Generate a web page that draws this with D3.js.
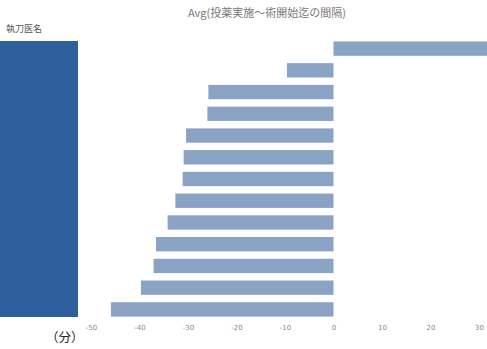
<!DOCTYPE html>
<html>
<head>
<meta charset="utf-8">
<script src="https://cdn.jsdelivr.net/npm/d3@7"></script>
<style>
  html, body { margin: 0; padding: 0; background: #fff; }
  svg { display: block; }
</style>
</head>
<body>
<svg id="chart" width="487" height="349"></svg>
<script>
// Average interval (minutes) from medication to surgery start, per surgeon
const surgeons = ["S01","S02","S03","S04","S05","S06","S07","S08","S09","S10","S11","S12","S13"];
const avgMinutes = [32.5, -9.6, -25.8, -26.0, -30.4, -30.9, -31.1, -32.6, -34.2, -36.6, -37.1, -39.7, -45.9];
const tickValues = [-50, -40, -30, -20, -10, 0, 10, 20, 30];

const titleText = "Avg(投薬実施～術開始迄の間隔)";
const rowHeaderText = "執刀医名";
const unitText = "（分）";

const W = 487, H = 349;
const svg = d3.select("#chart");

const x = d3.scaleLinear().domain([-50, 30]).range([91, 479]);
const y = d3.scaleBand().domain(surgeons).range([41, 317]).paddingInner(0.34).paddingOuter(0.02);

// title
svg.append("text")
  .attr("x", 267).attr("y", 17)
  .attr("text-anchor", "middle")
  .attr("font-family", "'Noto Sans CJK JP', sans-serif")
  .attr("font-size", 11)
  .attr("fill", "#777")
  .text(titleText);

// row header label
svg.append("text")
  .attr("x", 6).attr("y", 32)
  .attr("font-family", "'Noto Sans CJK JP', sans-serif")
  .attr("font-size", 9)
  .attr("fill", "#555")
  .text(rowHeaderText);

// row header block
svg.append("rect")
  .attr("x", 0).attr("y", y.range()[0])
  .attr("width", 78).attr("height", y.range()[1] - y.range()[0])
  .attr("fill", "#2d5f9c");

// bars
svg.append("g").selectAll("rect")
  .data(surgeons.map((s, i) => ({ s, v: avgMinutes[i] })))
  .join("rect")
  .attr("x", d => x(Math.min(0, d.v)))
  .attr("y", d => y(d.s))
  .attr("width", d => Math.abs(x(d.v) - x(0)))
  .attr("height", y.bandwidth())
  .attr("fill", "#8aa3c5");

// x axis (labels only, plain hyphen minus)
const axis = d3.axisBottom(x).tickValues(tickValues).tickSize(0).tickPadding(0)
  .tickFormat(d => String(d));
const gx = svg.append("g").attr("transform", "translate(0,325)").call(axis);
gx.select(".domain").remove();
gx.selectAll("text")
  .attr("font-family", "'DejaVu Sans', sans-serif")
  .attr("font-size", 7)
  .attr("fill", "#888");

// unit label
svg.append("text")
  .attr("x", 46).attr("y", 342)
  .attr("font-family", "'Noto Sans CJK JP', sans-serif")
  .attr("font-size", 12.5)
  .attr("fill", "#222")
  .text(unitText);
</script>
</body>
</html>
